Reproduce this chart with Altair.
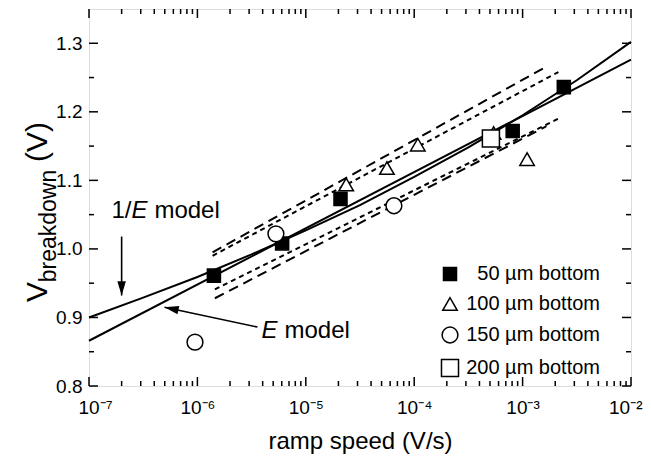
import altair as alt
import pandas as pd

FONT = "Liberation Sans, Arial, Helvetica, sans-serif"

# ---------------- data ----------------
series_names = ["50 µm bottom", "100 µm bottom", "150 µm bottom", "200 µm bottom"]
s50_rate = [1.42e-6, 6.05e-6, 2.09e-5, 8.1e-4, 2.4e-3]
s50_v = [0.961, 1.008, 1.073, 1.172, 1.236]
s100_rate = [2.36e-5, 5.6e-5, 1.08e-4, 5.4e-4, 1.1e-3]
s100_v = [1.094, 1.118, 1.152, 1.169, 1.131]
s150_rate = [9.5e-7, 5.3e-6, 6.5e-5]
s150_v = [0.864, 1.022, 1.063]
s200_rate = [5.1e-4]
s200_v = [1.161]

# model curves
e_model_rate = [1e-7, 1e-2]
e_model_v = [0.866, 1.276]
inv_e_rate = [1e-7, 3.16e-7, 1e-6, 3.16e-6, 1e-5, 3.16e-5, 1e-4, 3.16e-4, 1e-3, 3.16e-3, 1e-2]
inv_e_v = [0.900, 0.929, 0.959, 0.992, 1.027, 1.064, 1.105, 1.148, 1.195, 1.246, 1.302]

# dashed bands
upper_long_rate = [1.38e-6, 1.7e-3]
upper_long_v = [0.995, 1.267]
upper_short_rate = [1.38e-6, 2.14e-3]
upper_short_v = [0.990, 1.258]
lower_short_rate = [1.45e-6, 2.14e-3]
lower_short_v = [0.941, 1.190]
lower_long_rate = [1.45e-6, 1.66e-3]
lower_long_v = [0.928, 1.179]

# annotation arrows
arrow1_rate = [2.0e-7, 2.0e-7]
arrow1_v = [1.018, 0.932]
arrow2_rate = [3.58e-6, 4.97e-7]
arrow2_v = [0.886, 0.915]

# axis ticks
x_major = [1e-7, 1e-6, 1e-5, 1e-4, 1e-3, 1e-2]
x_labels = ["10⁻⁷", "10⁻⁶", "10⁻⁵", "10⁻⁴", "10⁻³", "10⁻²"]
x_minor = [m * d for d in x_major[:-1] for m in range(2, 10)]
y_major = [0.8, 0.9, 1.0, 1.1, 1.2, 1.3]
y_minor = [0.85, 0.95, 1.05, 1.15, 1.25]

W, H = 542, 377

# ---------------- scales / axes ----------------
xs = alt.Scale(type="log", domain=[1e-7, 1e-2], nice=False)
ys = alt.Scale(domain=[0.8, 1.35], nice=False, zero=False)
label_js = "[" + ",".join("'%s'" % s for s in x_labels) + "][round(log(datum.value)/LN10)+7]"
x_axis = alt.Axis(values=x_major, labelExpr=label_js, ticks=False, domain=False, grid=False,
                  labelFontSize=19, labelFont=FONT, labelColor="black", labelPadding=12,
                  labelOverlap=False, labelFlush=True, labelFlushOffset=11,
                  titleFontSize=24, titleFont=FONT, titleFontWeight="normal", titleColor="black",
                  titlePadding=12)
y_axis = alt.Axis(values=y_major, format=".1f", ticks=False, domain=False, grid=False,
                  labelFontSize=19, labelFont=FONT, labelColor="black", labelPadding=7,
                  labelOverlap=False, labelFlush=False)


def X():
    return alt.X("rate:Q", scale=xs, axis=x_axis, title="ramp speed (V/s)")


def Y():
    return alt.Y("V:Q", scale=ys, axis=y_axis, title=None)


def df(r, v):
    return pd.DataFrame({"rate": r, "V": v})


layers = []

# ticks (inward, all four sides)
xmaj = pd.DataFrame({"rate": x_major})
xmin = pd.DataFrame({"rate": x_minor})
ymaj = pd.DataFrame({"V": y_major})
ymin = pd.DataFrame({"V": y_minor})
for d, L in [(xmaj, 9), (xmin, 5)]:
    layers.append(alt.Chart(d).mark_rule(color="black", strokeWidth=1.5).encode(
        x=X(), y=alt.value(H), y2=alt.value(H - L)))
    layers.append(alt.Chart(d).mark_rule(color="black", strokeWidth=1.5).encode(
        x=X(), y=alt.value(0), y2=alt.value(L)))
for d, L in [(ymaj, 9), (ymin, 5)]:
    layers.append(alt.Chart(d).mark_rule(color="black", strokeWidth=1.5).encode(
        y=Y(), x=alt.value(0), x2=alt.value(L)))
    layers.append(alt.Chart(d).mark_rule(color="black", strokeWidth=1.5).encode(
        y=Y(), x=alt.value(W), x2=alt.value(W - L)))

# model lines
layers.append(alt.Chart(df(e_model_rate, e_model_v)).mark_line(color="black", strokeWidth=2).encode(x=X(), y=Y()))
layers.append(alt.Chart(df(inv_e_rate, inv_e_v)).mark_line(color="black", strokeWidth=2).encode(x=X(), y=Y()))

# dashed bands
for r, v, dash in [(upper_long_rate, upper_long_v, [10, 6]),
                   (upper_short_rate, upper_short_v, [5, 4]),
                   (lower_short_rate, lower_short_v, [5, 4]),
                   (lower_long_rate, lower_long_v, [10, 6])]:
    layers.append(alt.Chart(df(r, v)).mark_line(color="black", strokeWidth=2, strokeDash=dash).encode(x=X(), y=Y()))

# arrows
head = "M0,0L-0.45,1.5L0.45,1.5Z"
for r, v, ang in [(arrow1_rate, arrow1_v, 180), (arrow2_rate, arrow2_v, 282)]:
    layers.append(alt.Chart(df(r, v)).mark_line(color="black", strokeWidth=1.6).encode(x=X(), y=Y()))
    layers.append(alt.Chart(df(r[-1:], v[-1:])).mark_point(
        shape=head, size=360, filled=True, color="black", angle=ang, opacity=1).encode(x=X(), y=Y()))

# annotation texts
t1 = df([1.61e-7], [1.056])
t2 = df([3.9e-6], [0.880])


def txt(d, s, dx, italic=False):
    return alt.Chart(d).mark_text(text=s, font=FONT, fontSize=24, align="left", baseline="middle",
                                  dx=dx, fontStyle="italic" if italic else "normal", color="black"
                                  ).encode(x=X(), y=Y())


layers += [txt(t1, "1/", 0), txt(t1, "E", 20, True), txt(t1, "model", 43),
           txt(t2, "E", 0, True), txt(t2, "model", 23)]

# data points
pts = pd.concat([
    pd.DataFrame({"rate": s50_rate, "V": s50_v, "series": series_names[0]}),
    pd.DataFrame({"rate": s100_rate, "V": s100_v, "series": series_names[1]}),
    pd.DataFrame({"rate": s150_rate, "V": s150_v, "series": series_names[2]}),
    pd.DataFrame({"rate": s200_rate, "V": s200_v, "series": series_names[3]}),
])
legend = alt.Legend(orient="none", legendX=351, legendY=255, title=None, labelAlign="right",
                    labelOffset=140, labelFontSize=20, labelFont=FONT, labelColor="black",
                    symbolStrokeColor="black", symbolStrokeWidth=1.5, rowPadding=10, padding=0,
                    labelLimit=300)
layers.append(alt.Chart(pts).mark_point(filled=True, stroke="black", strokeWidth=1.5, opacity=1).encode(
    x=X(), y=Y(),
    shape=alt.Shape("series:N", scale=alt.Scale(domain=series_names,
                    range=["square", "triangle-up", "circle", "square"]), legend=legend),
    fill=alt.Fill("series:N", scale=alt.Scale(domain=series_names,
                  range=["black", "white", "white", "white"]), legend=legend),
    stroke=alt.Stroke("series:N", scale=alt.Scale(domain=series_names,
                      range=["black", "black", "black", "black"]), legend=legend),
    size=alt.Size("series:N", scale=alt.Scale(domain=series_names, range=[170, 290, 150, 140]), legend=legend),
))

# y title  V_breakdown (V)


def ytxt(s, x, y, size):
    return alt.Chart(pd.DataFrame({"t": [s]})).mark_text(
        angle=270, font=FONT, fontSize=size, align="center", baseline="middle", color="black"
    ).encode(text="t:N", x=alt.value(x), y=alt.value(y))


layers += [ytxt("V", -51, 283, 30), ytxt("breakdown", -40, 217, 23), ytxt("(V)", -51, 133, 30)]

chart = alt.layer(*layers).properties(
    width=W, height=H,
    padding={"left": 81, "top": 1, "right": 12, "bottom": 68},
    autosize=alt.AutoSizeParams(type="none"),
).configure_view(stroke="black", strokeWidth=2).configure(background="white")

chart.save("out.html", embed_options={"renderer": "svg", "actions": False})
